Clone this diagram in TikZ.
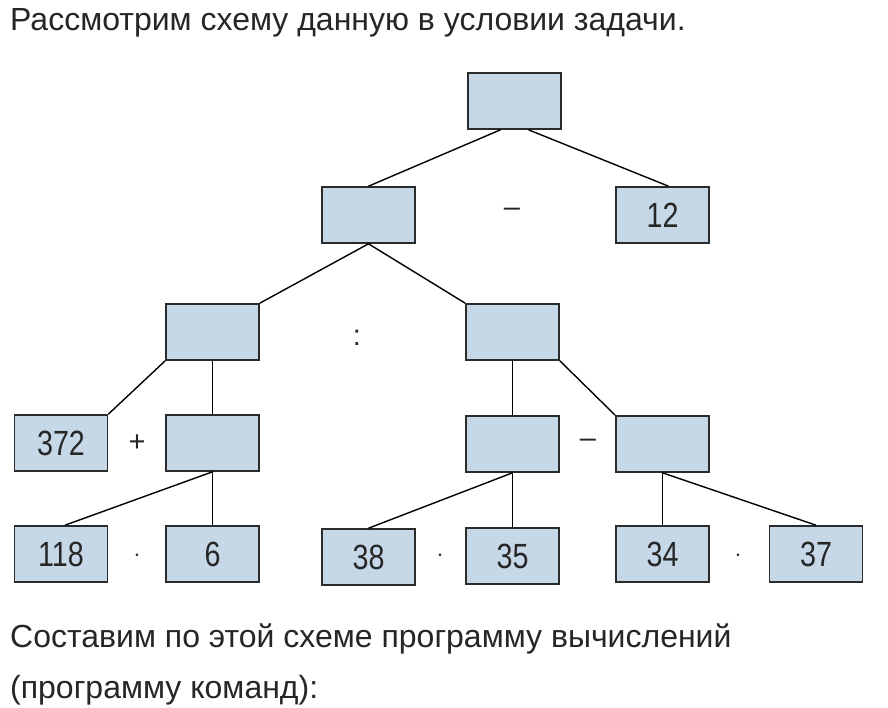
\documentclass[tikz,border=0pt]{standalone}
\usepackage{fontspec}
\setmainfont{Liberation Sans}
\newfontfamily\narrowfont[FakeStretch=0.82]{Liberation Sans}
\usepackage{xcolor}
\definecolor{boxfill}{HTML}{C6D8E7}
\definecolor{boxline}{HTML}{2B2B2B}

\begin{document}
\begin{tikzpicture}[x=1pt, y=-1pt,
  cell/.style={rectangle, draw=boxline, fill=boxfill, line width=1.6,
    minimum width=93pt, minimum height=56pt, inner sep=0pt, text=black!85,
    font=\narrowfont\fontsize{35}{35}\selectfont},
  op/.style={font=\fontsize{29}{29}\selectfont, text=black!85},
  txt/.style={anchor=base west, inner sep=0pt, font=\fontsize{32}{32}\selectfont, text=black!85}]
\useasboundingbox (0,0) rectangle (888,708);

% texts %
\node[txt] (title) at (10,31) {Рассмотрим схему данную в условии задачи.};
\node[txt] (line1) at (10,647) {Составим по этой схеме программу вычислений};
\node[txt] (line2) at (10,698) {(программу команд):};

% nodes %
\node[cell] (r) at (514.5,101) {};
\node[cell] (a) at (368.5,215) {};
\node[cell] (b) at (662.5,215) {12};
\node[cell] (c) at (212.5,332) {};
\node[cell] (d) at (512.5,332) {};
\node[cell] (e) at (61,443) {372};
\node[cell] (f) at (212.5,443) {};
\node[cell] (g) at (512.5,444) {};
\node[cell] (h) at (662.5,444) {};
\node[cell] (i) at (61,554) {118};
\node[cell] (j) at (212.5,554) {6};
\node[cell] (k) at (368.5,557) {38};
\node[cell] (l) at (512.5,556) {35};
\node[cell] (m) at (662.5,554) {34};
\node[cell] (n) at (816,554) {37};

% operations %
\node[op] (o1) at (512,212) {--};
\node[op] (o2) at (357,338) {:};
\node[op] (o3) at (137,443) {+};
\node[op] (o4) at (588,443) {--};
\node[op] (o5) at (137,556) {$\cdot$};
\node[op] (o6) at (440,556) {$\cdot$};
\node[op] (o7) at (738,556) {$\cdot$};

% edges %
\draw[line width=1.4] ([xshift=-14pt]r.south) -- (a.north);
\draw[line width=1.4] ([xshift=14pt]r.south) -- ([xshift=6pt]b.north);
\draw[line width=1.4] (a.south) -- (c.north east);
\draw[line width=1.4] (a.south) -- (d.north west);
\draw[line width=1.4] (c.south west) -- (e.north east);
\draw[line width=1.4] (c.south) -- (f.north);
\draw[line width=1.4] (f.south) -- ([xshift=4pt]i.north);
\draw[line width=1.4] (f.south) -- (j.north);
\draw[line width=1.4] (d.south) -- (g.north);
\draw[line width=1.4] (d.south east) -- (h.north west);
\draw[line width=1.4] (g.south) -- (k.north);
\draw[line width=1.4] (g.south) -- (l.north);
\draw[line width=1.4] (h.south) -- (m.north);
\draw[line width=1.4] (h.south) -- (n.north);
\end{tikzpicture}
\end{document}
